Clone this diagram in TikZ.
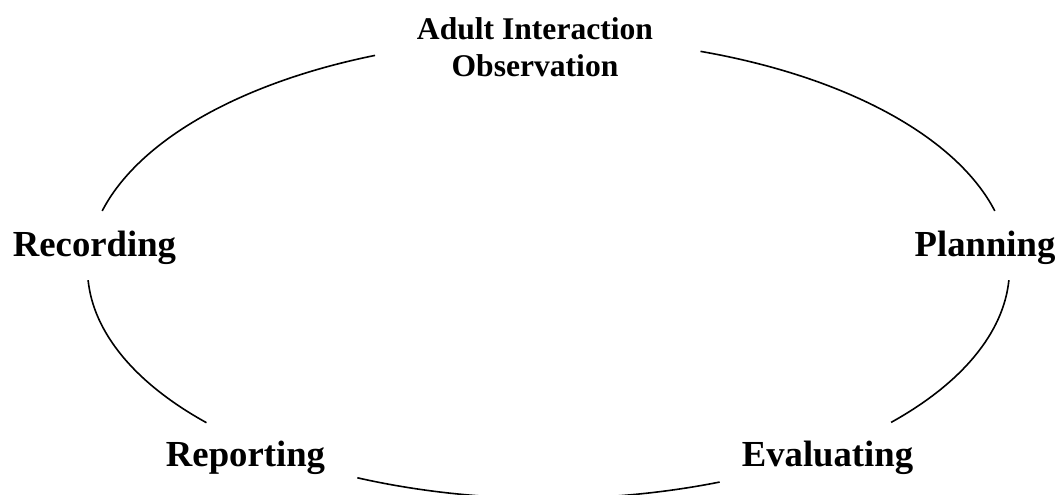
\documentclass[tikz,border=0pt]{standalone}
\usepackage{fontspec}
\setmainfont{Liberation Serif}
\usetikzlibrary{calc}
\begin{document}
\begin{tikzpicture}[x=1pt,y=1pt,
  lbl/.style={font=\fontsize{36.7}{40}\selectfont\bfseries, inner sep=0pt, anchor=base},
  toplbl/.style={font=\fontsize{31.6}{37}\selectfont\bfseries, inner sep=0pt, align=center, anchor=base},
  ring/.style={line width=1.6pt, line cap=butt}]
\useasboundingbox (0,0) rectangle (1061,495);
\coordinate (c) at (548.5,226.5);
\node[toplbl] (obs) at (535,418) {Adult Interaction\\Observation};
\node[lbl] (rec) at (94.5,238) {Recording};
\node[lbl] (pla) at (985,238) {Planning};
\node[lbl] (rep) at (245.5,28) {Reporting};
\node[lbl] (eva) at (827.5,28) {Evaluating};
\draw[ring] ($(c)+(70.75:461pt and 230pt)$) arc[start angle=70.75, end angle=14.5, x radius=461pt, y radius=230pt];
\draw[ring] ($(c)+(-2.9:461pt and 230pt)$) arc[start angle=-2.9, end angle=-42.0, x radius=461pt, y radius=230pt];
\draw[ring] ($(c)+(-68.2:461pt and 230pt)$) arc[start angle=-68.2, end angle=-114.5, x radius=461pt, y radius=230pt];
\draw[ring] ($(c)+(-137.9:461pt and 230pt)$) arc[start angle=-137.9, end angle=-177.1, x radius=461pt, y radius=230pt];
\draw[ring] ($(c)+(165.5:461pt and 230pt)$) arc[start angle=165.5, end angle=112.1, x radius=461pt, y radius=230pt];
\end{tikzpicture}
\end{document}
